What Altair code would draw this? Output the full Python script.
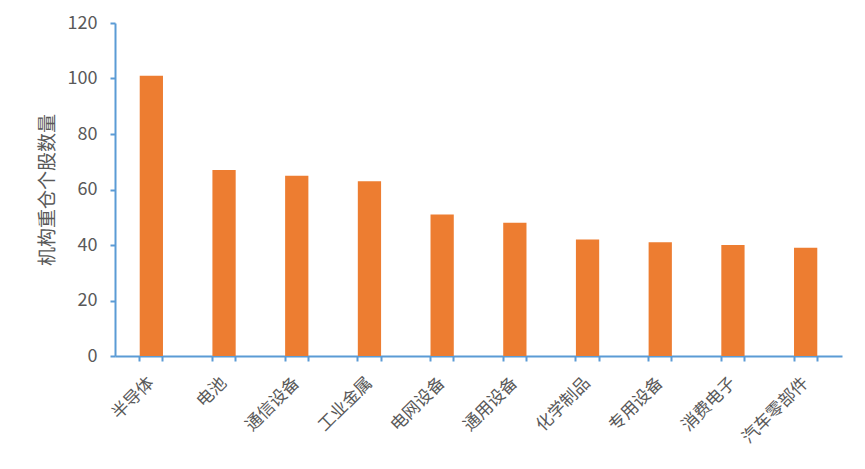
import altair as alt
import pandas as pd

categories = ["半导体", "电池", "通信设备", "工业金属", "电网设备", "通用设备",
              "化学制品", "专用设备", "消费电子", "汽车零部件"]
counts = [101, 67, 65, 63, 51, 48, 42, 41, 40, 39]

df = pd.DataFrame({"cat": categories, "n": counts})

FONT = "Noto Sans CJK SC"
AXIS_BLUE = "#5B9BD5"
TEXT_GRAY = "#595959"

xscale = alt.Scale(paddingInner=0.68, paddingOuter=0.34)

base = alt.Chart(df)

bars = base.mark_bar(color="#ED7D31").encode(
    x=alt.X("cat:N", sort=categories, scale=xscale, title=None,
            axis=alt.Axis(orient="bottom", domain=False, ticks=False,
                          labelAngle=-45, labelAlign="right", labelBaseline="middle",
                          labelPadding=24, labelFont=FONT, labelFontSize=17,
                          labelColor=TEXT_GRAY, labelLimit=200)),
    y=alt.Y("n:Q", title="机构重仓个股数量",
            scale=alt.Scale(domain=[0, 120]),
            axis=alt.Axis(values=[0, 20, 40, 60, 80, 100, 120], grid=False,
                          domainColor=AXIS_BLUE, domainWidth=2, tickColor=AXIS_BLUE,
                          tickWidth=2, tickSize=5, labelPadding=13,
                          labelFont=FONT, labelFontSize=18, labelColor=TEXT_GRAY,
                          titleFont=FONT, titleFontSize=19, titleFontWeight="normal",
                          titleColor=TEXT_GRAY, titlePadding=10)),
)

tick_start = base.mark_point(opacity=0).encode(
    x=alt.X("cat:N", sort=categories, scale=xscale, title=None,
            axis=alt.Axis(orient="bottom", labels=False, bandPosition=0,
                          domainColor=AXIS_BLUE, domainWidth=2, tickColor=AXIS_BLUE,
                          tickWidth=2, tickSize=5)),
)

tick_end = base.mark_point(opacity=0).encode(
    x=alt.X("cat:N", sort=categories, scale=xscale, title=None,
            axis=alt.Axis(orient="bottom", labels=False, bandPosition=1,
                          domain=False, tickColor=AXIS_BLUE,
                          tickWidth=2, tickSize=5)),
)

chart = alt.layer(bars, tick_start, tick_end).resolve_axis(x="independent").properties(
    width=727, height=333,
    autosize=alt.AutoSizeParams(type="none"),
    padding={"left": 107, "top": 15, "right": 15, "bottom": 105},
    background="white",
).configure_view(stroke=None)

chart.save("out.html", embed_options={"renderer": "svg", "actions": False})
